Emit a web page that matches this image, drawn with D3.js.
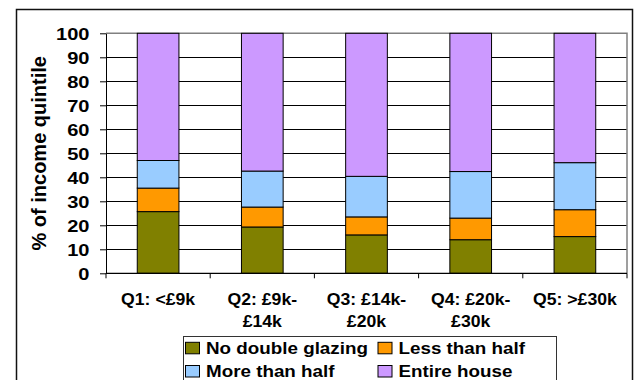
<!DOCTYPE html>
<html>
<head>
<meta charset="utf-8">
<script src="https://cdn.jsdelivr.net/npm/d3@7"></script>
<style>
  html, body { margin: 0; padding: 0; background: #fff; }
  svg { display: block; }
  text { font-family: "Liberation Sans", Arial, sans-serif; font-weight: bold; fill: #000; }
</style>
</head>
<body>
<svg id="chart" width="639" height="380"></svg>
<script>
// Double glazing by income quintile (% of each quintile)
const categories = ["Q1: <£9k", "Q2: £9k-£14k", "Q3: £14k-£20k", "Q4: £20k-£30k", "Q5: >£30k"];
const seriesNames = ["No double glazing", "Less than half", "More than half", "Entire house"];
const noDoubleGlazing = [25.7, 19.3, 16.0, 14.0, 15.3];
const lessThanHalf    = [9.8, 8.3, 7.5, 9.0, 11.2];
const moreThanHalf    = [11.5, 15.0, 16.9, 19.4, 19.6];
const entireHouse     = [53.0, 57.4, 59.6, 57.6, 53.9];
const yTicks = [0, 10, 20, 30, 40, 50, 60, 70, 80, 90, 100];
const yTitle = "% of income quintile";

const colors = ["#808000", "#FF9900", "#99CCFF", "#CC99FF"];
const seriesValues = [noDoubleGlazing, lessThanHalf, moreThanHalf, entireHouse];

const rows = categories.map((c, i) => {
  const r = { category: c };
  seriesNames.forEach((s, k) => { r[s] = seriesValues[k][i]; });
  return r;
});

const svg = d3.select("#chart");
const plot = { left: 106, right: 627, top: 33.3, bottom: 273.3 };

// chart frame
svg.append("rect")
  .attr("x", 16.5).attr("y", 9.5)
  .attr("width", 616).attr("height", 390)
  .attr("fill", "#fff").attr("stroke", "#111").attr("stroke-width", 1.5);

const x = d3.scaleBand().domain(categories)
  .range([plot.left, plot.right]).paddingInner(0.6).paddingOuter(0.3);
const y = d3.scaleLinear().domain([0, 100]).range([plot.bottom, plot.top]);

// gridlines
svg.append("g").selectAll("line")
  .data(yTicks.filter(t => t > 0 && t < 100))
  .join("line")
  .attr("x1", plot.left).attr("x2", plot.right)
  .attr("y1", d => Math.round(y(d)) + 0.5).attr("y2", d => Math.round(y(d)) + 0.5)
  .attr("stroke", "#000").attr("stroke-width", 1);

// plot border (top and right)
svg.append("path")
  .attr("d", `M${plot.left},${y(100)}H${plot.right}V${plot.bottom}`)
  .attr("fill", "none").attr("stroke", "#808080").attr("stroke-width", 1.5);

// stacked bars
const stack = d3.stack().keys(seriesNames)(rows);
svg.append("g").selectAll("g")
  .data(stack)
  .join("g")
  .attr("fill", (d, i) => colors[i])
  .selectAll("rect")
  .data(d => d)
  .join("rect")
  .attr("x", d => x(d.data.category))
  .attr("width", x.bandwidth())
  .attr("y", d => y(d[1]))
  .attr("height", d => y(d[0]) - y(d[1]))
  .attr("stroke", "#000").attr("stroke-width", 1);

// y axis
const yAxis = svg.append("g")
  .attr("transform", `translate(${plot.left},0)`)
  .call(d3.axisLeft(y).tickValues(yTicks).tickSize(6).tickSizeOuter(0));
yAxis.select(".domain").attr("stroke", "#000");
yAxis.selectAll(".tick line").attr("stroke", "#000");
yAxis.selectAll(".tick text")
  .attr("font-size", 17)
  .attr("font-family", null)
  .attr("x", -16.5 / 1.18)
  .attr("dy", "0.35em")
  .attr("transform", "scale(1.18,1)");
yAxis.attr("font-family", null);

// x axis
const boundaries = categories.map(c => x(c) - x.step() * x.paddingOuter()).concat([plot.right]);
svg.append("line")
  .attr("x1", plot.left).attr("x2", plot.right)
  .attr("y1", plot.bottom).attr("y2", plot.bottom)
  .attr("stroke", "#000").attr("stroke-width", 1.2);
svg.append("g").selectAll("line")
  .data(boundaries)
  .join("line")
  .attr("x1", d => d).attr("x2", d => d)
  .attr("y1", plot.bottom).attr("y2", plot.bottom + 5)
  .attr("stroke", "#000");

const xLabels = svg.append("g").selectAll("g")
  .data(categories)
  .join("g")
  .attr("transform", d => `translate(${x(d) + x.bandwidth() / 2},0) scale(1.07,1)`);
xLabels.each(function (d) {
  const parts = d.includes("-") ? [d.slice(0, d.indexOf("-") + 1), d.slice(d.indexOf("-") + 1)] : [d];
  d3.select(this).selectAll("text")
    .data(parts)
    .join("text")
    .attr("text-anchor", "middle")
    .attr("font-size", 16.5)
    .attr("y", (p, i) => 305 + i * 22)
    .text(p => p);
});

// y title
svg.append("text")
  .attr("transform", `translate(46,${(plot.top + plot.bottom) / 2}) rotate(-90)`)
  .attr("text-anchor", "middle")
  .attr("font-size", 20)
  .text(yTitle);

// legend
const legend = svg.append("g");
legend.append("rect")
  .attr("x", 183.5).attr("y", 336.5)
  .attr("width", 373).attr("height", 60)
  .attr("fill", "#fff").attr("stroke", "#333").attr("stroke-width", 1);
const legendPos = [[185.5, 353.8], [378, 353.8], [185.5, 377], [378, 377]];
seriesNames.forEach((name, i) => {
  const [lx, ly] = legendPos[i];
  const item = legend.append("g");
  item.append("rect")
    .attr("x", lx).attr("y", ly - 11.5)
    .attr("width", 14).attr("height", 11.5)
    .attr("fill", colors[i]).attr("stroke", "#000").attr("stroke-width", 1);
  item.append("text")
    .attr("transform", `translate(${lx + 20.5},${ly}) scale(1.14,1)`)
    .attr("font-size", 16.5)
    .text(name);
});
</script>
</body>
</html>
